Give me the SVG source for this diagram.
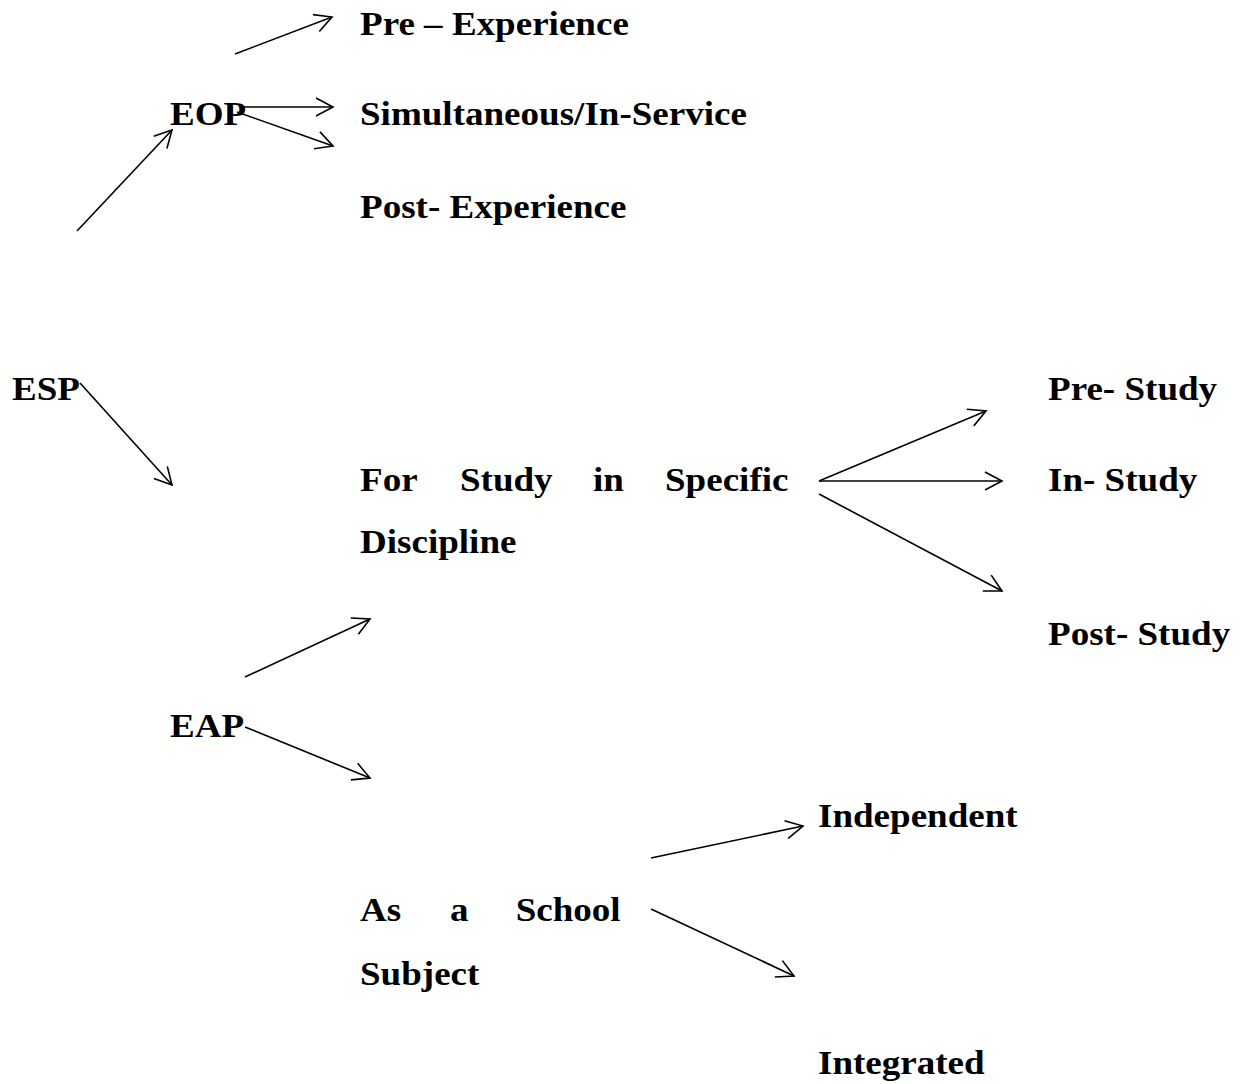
<svg xmlns="http://www.w3.org/2000/svg" width="1242" height="1084" viewBox="0 0 1242 1084">
<style>
.t{font-family:"Liberation Serif","Times New Roman",serif;font-weight:bold;font-size:34px;fill:#000}
.c{stroke:#000;stroke-width:1.6;fill:none;marker-end:url(#ah)}
</style>
<defs>
<marker id="ah" markerUnits="userSpaceOnUse" markerWidth="40" markerHeight="40" viewBox="-20 -20 40 40" refX="0" refY="0" orient="auto">
<path d="M-17,-9 L0,0 L-17,9" fill="none" stroke="#000" stroke-width="1.6"/>
</marker>
</defs>
<rect width="1242" height="1084" fill="#fff"/>
<g id="connectors">
<line class="c" x1="77" y1="231" x2="172" y2="130"/>
<line class="c" x1="235" y1="54" x2="332" y2="17"/>
<line class="c" x1="240" y1="107" x2="333" y2="107"/>
<line class="c" x1="237" y1="112" x2="333" y2="146"/>
<line class="c" x1="80" y1="383" x2="172" y2="485"/>
<line class="c" x1="819" y1="481" x2="986" y2="411"/>
<line class="c" x1="819" y1="481" x2="1002" y2="481"/>
<line class="c" x1="819" y1="494" x2="1002" y2="591"/>
<line class="c" x1="245" y1="677" x2="370" y2="619"/>
<line class="c" x1="245" y1="727" x2="370" y2="778"/>
<line class="c" x1="651" y1="858" x2="803" y2="826"/>
<line class="c" x1="651" y1="909" x2="794" y2="976"/>
</g>
<g id="esp"><text class="t" transform="translate(12,400) scale(1.09,1)">ESP</text></g>
<g id="eop"><text class="t" transform="translate(170,125) scale(1.09,1)">EOP</text></g>
<g id="pre-experience"><text class="t" transform="translate(360,35) scale(1.09,1)">Pre – Experience</text></g>
<g id="simultaneous"><text class="t" transform="translate(360,125) scale(1.09,1)">Simultaneous/In-Service</text></g>
<g id="post-experience"><text class="t" transform="translate(360,218) scale(1.09,1)">Post- Experience</text></g>
<g id="for-study"><text class="t" transform="translate(0,491) scale(1.09,1)"><tspan x="330.3">For</tspan><tspan x="422">Study</tspan><tspan x="544">in</tspan><tspan x="610.1">Specific</tspan></text><text class="t" transform="translate(360,553) scale(1.09,1)">Discipline</text></g>
<g id="pre-study"><text class="t" transform="translate(1048,400) scale(1.09,1)">Pre- Study</text></g>
<g id="in-study"><text class="t" transform="translate(1048,491) scale(1.09,1)">In- Study</text></g>
<g id="post-study"><text class="t" transform="translate(1048,645) scale(1.09,1)">Post- Study</text></g>
<g id="eap"><text class="t" transform="translate(170,737) scale(1.09,1)">EAP</text></g>
<g id="school-subject"><text class="t" transform="translate(0,921) scale(1.09,1)"><tspan x="330.3">As</tspan><tspan x="412.8">a</tspan><tspan x="473.1">School</tspan></text><text class="t" transform="translate(360,985) scale(1.09,1)">Subject</text></g>
<g id="independent"><text class="t" transform="translate(818,827) scale(1.09,1)">Independent</text></g>
<g id="integrated"><text class="t" transform="translate(818,1074) scale(1.09,1)">Integrated</text></g>
</svg>
